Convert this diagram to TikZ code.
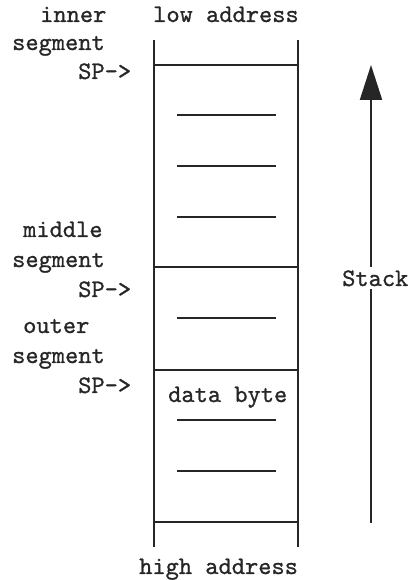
\documentclass[tikz,border=0pt]{standalone}
\usepackage{tikz}
\usetikzlibrary{arrows.meta}
% slightly heavier typewriter face
\font\stacktt="[lmmono10-regular]:embolden=0.9" at 25.2pt

\begin{document}
\begin{tikzpicture}[x=10pt,y=10pt,
  wall/.style={line width=2.3pt,black!85},
  slot/.style={line width=2.2pt,black!85},
  lbl/.style={anchor=base west,inner sep=0pt,font=\stacktt,text=black!85},
  growarrow/.style={-{Triangle[length=35pt,width=22pt]},line width=2.2pt,black!85}
]
  \useasboundingbox (0,0) rectangle (41.6,58);
  % Stack frame
  \coordinate (tl) at (15.4,54.0);
  \coordinate (bl) at (15.4,3.3);
  \coordinate (tr) at (29.8,54.0);
  \coordinate (br) at (29.8,3.3);
  \draw[wall] (tl) -- (bl);
  \draw[wall] (tr) -- (br);
  % Segment boundaries
  \foreach \y in {51.5,31.3,21.0,5.8}
    \draw[wall] (15.4,\y) -- (29.8,\y);
  % Words inside the segments
  \foreach \y in {46.5,41.4,36.3,26.2,16.0,10.9}
    \draw[slot] (17.7,\y) -- (27.6,\y);
  % Address labels
  \node[lbl] (low) at (15.3,55.8) {low address};
  \node[lbl] (high) at (13.9,0.6) {high address};
  \node[lbl] (data) at (16.8,17.8) {data byte};
  % Segment labels
  \node[lbl] (inner) at (4.0,55.8) {inner};
  \node[lbl] (innerseg) at (1.2,53.0) {segment};
  \node[lbl] (sp1) at (7.8,50.1) {SP->};
  \node[lbl] (middle) at (2.3,34.3) {middle};
  \node[lbl] (middleseg) at (1.2,31.3) {segment};
  \node[lbl] (sp2) at (7.8,28.3) {SP->};
  \node[lbl] (outer) at (2.3,24.7) {outer};
  \node[lbl] (outerseg) at (1.2,21.7) {segment};
  \node[lbl] (sp3) at (7.8,18.7) {SP->};
  % Growth arrow
  \coordinate (sbot) at (37.1,5.7);
  \coordinate (stop) at (37.1,51.5);
  \draw[growarrow] (sbot) -- (stop);
  \node[lbl,fill=white,inner sep=3pt] (stack) at (33.9,29.4) {Stack};
\end{tikzpicture}
\end{document}
